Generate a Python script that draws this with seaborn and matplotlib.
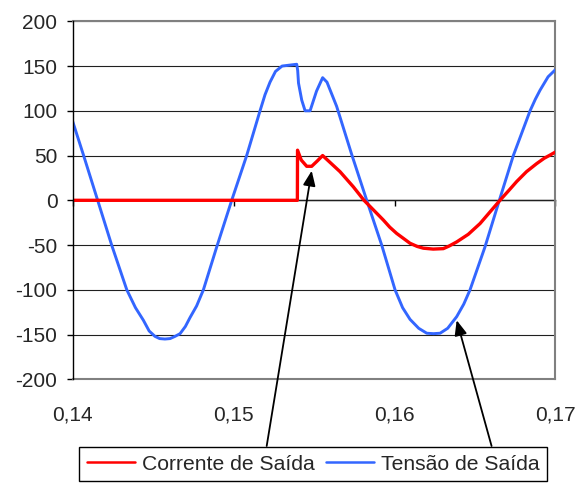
import matplotlib
matplotlib.use("Agg")
import matplotlib.pyplot as plt
import pandas as pd
import seaborn as sns

# output voltage (blue)
tensao_t = [0.14000, 0.14066, 0.14155, 0.14242, 0.14336, 0.14390, 0.14439, 0.14475,
            0.14511, 0.14540, 0.14573, 0.14605, 0.14636, 0.14667, 0.14700, 0.14729,
            0.14770, 0.14812, 0.14895, 0.14988, 0.15081, 0.15164, 0.15195, 0.15226,
            0.15260, 0.15301, 0.15392, 0.15398, 0.15403, 0.15423, 0.15444, 0.15475,
            0.15515, 0.15553, 0.15580, 0.15640, 0.15734, 0.15827, 0.15920, 0.16003,
            0.16050, 0.16096, 0.16150, 0.16200, 0.16242, 0.16283, 0.16330, 0.16386,
            0.16430, 0.16469, 0.16562, 0.16651, 0.16738, 0.16842, 0.16875, 0.16904,
            0.16954, 0.17000]
tensao_v = [88, 51, 0, -50, -100, -120, -134, -146,
            -152, -154.5, -155, -154.5, -152, -149, -141, -131,
            -118, -100, -52, 0, 50, 100, 118, 132,
            144, 150, 152, 145, 131, 112, 100, 100,
            122, 137, 132, 105, 51, 0, -50, -100,
            -120, -133, -143, -148.5, -149, -148.5, -143, -130,
            -116, -100, -52, 0, 50, 100, 113, 123,
            138, 146]

# output current (red)
corrente_t = [0.14000, 0.15396, 0.15397, 0.15420, 0.15454, 0.15485, 0.15520, 0.15553,
              0.15661, 0.15744, 0.15810, 0.15870, 0.15930, 0.15970, 0.16013, 0.16096,
              0.16140, 0.16179, 0.16240, 0.16303, 0.16340, 0.16386, 0.16458, 0.16531,
              0.16655, 0.16710, 0.16759, 0.16820, 0.16883, 0.16930, 0.16966, 0.17000]
corrente_i = [0, 0, 56, 45, 38, 38, 44, 50,
              32, 15, 0, -11, -22, -30, -37, -48,
              -51.5, -53.5, -54.5, -54, -51, -46.5, -38, -26,
              0, 11, 21, 32, 41, 47, 50.5, 54]

xticks = [0.14, 0.15, 0.16, 0.17]
xtick_labels = ['0,14', '0,15', '0,16', '0,17']
yticks = [-200, -150, -100, -50, 0, 50, 100, 150, 200]

sns.set_style('white')
plt.rcParams['font.family'] = ['Liberation Sans', 'DejaVu Sans']
plt.rcParams['axes.unicode_minus'] = False

df_i = pd.DataFrame({'t': corrente_t, 'v': corrente_i})
df_v = pd.DataFrame({'t': tensao_t, 'v': tensao_v})

fig = plt.figure(figsize=(5.79, 4.84), dpi=100)
ax = fig.add_axes([0.1256, 0.2163, 0.8338, 0.7397])

sns.lineplot(data=df_i, x='t', y='v', ax=ax, color='#FF0000', linewidth=2.4,
             estimator=None, sort=False, label='Corrente de Saída', zorder=4)
sns.lineplot(data=df_v, x='t', y='v', ax=ax, color='#3366FF', linewidth=2.1,
             estimator=None, sort=False, label='Tensão de Saída', zorder=3)

ax.set_xlim(0.14, 0.17)
ax.set_ylim(-200, 200)
ax.set_xticks(xticks)
ax.set_xticklabels(xtick_labels)
ax.set_yticks(yticks)
ax.set_xlabel('')
ax.set_ylabel('')
ax.yaxis.grid(True, color='#202020', linewidth=0.8)
ax.xaxis.grid(False)

for side in ['top', 'right', 'bottom']:
    ax.spines[side].set_color('#808080')
    ax.spines[side].set_linewidth(1.5)
ax.spines['left'].set_color('black')
ax.spines['left'].set_linewidth(1.0)
ax.spines['left'].set_zorder(5)

ax.tick_params(axis='y', left=True, direction='out', length=4, width=1,
               color='black', labelsize=15, pad=7)
ax.tick_params(axis='x', bottom=False, labelsize=15, pad=15)

# x axis crossing at zero (Excel style), ticks hanging below the line
zero_ax = ax.secondary_xaxis(0.5)
zero_ax.set_alignment('bottom')
zero_ax.set_xticks(xticks)
zero_ax.set_xticklabels([])
zero_ax.tick_params(axis='x', bottom=True, top=False, direction='out', length=4,
                    width=1, color='black')
zero_ax.spines['bottom'].set_color('black')
zero_ax.spines['bottom'].set_linewidth(1.0)

handles, labels = ax.get_legend_handles_labels()
ax.get_legend().remove()
leg = fig.legend(handles, labels, loc='lower center', bbox_to_anchor=(0.5406, 0.006),
                 ncol=2, fontsize=15.2, frameon=True, fancybox=False, shadow=False,
                 handlelength=2.3, handletextpad=0.3, columnspacing=0.55,
                 borderpad=0.35, borderaxespad=0, framealpha=1)
leg.get_frame().set_edgecolor('black')
leg.get_frame().set_linewidth(1.0)
for line in leg.get_lines():
    line.set_linewidth(1.8)

arrow = dict(arrowstyle='-|>,head_length=0.6,head_width=0.25', color='black',
             lw=1.3, mutation_scale=15, shrinkA=0, shrinkB=0)
ax.annotate('', xy=(0.15485, 33), xycoords='data',
            xytext=(0.4606, 0.0785), textcoords='figure fraction', arrowprops=arrow)
ax.annotate('', xy=(0.16386, -134), xycoords='data',
            xytext=(0.849, 0.0785), textcoords='figure fraction', arrowprops=arrow)

fig.savefig('out.png', dpi=100)
